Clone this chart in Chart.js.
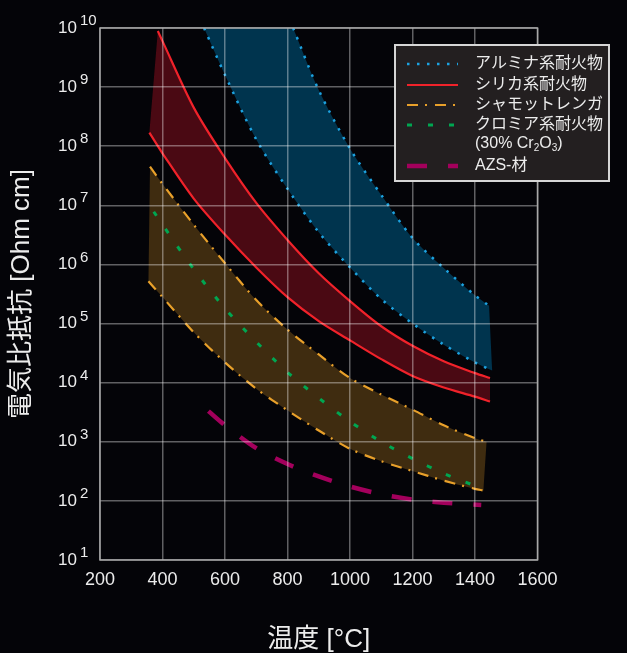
<!DOCTYPE html>
<html>
<head>
<meta charset="utf-8">
<script src="https://cdn.jsdelivr.net/npm/chart.js@4.4.1/dist/chart.umd.min.js"></script>
<style>
  html, body { margin: 0; padding: 0; background: #040408; }
  #wrap { width: 627px; height: 653px; position: relative; }
</style>
</head>
<body>
<div id="wrap"><canvas id="resistChart"></canvas></div>
<script>
// axis ticks
const xTicks = [200, 400, 600, 800, 1000, 1200, 1400, 1600];
const yTicks = [1e1, 1e2, 1e3, 1e4, 1e5, 1e6, 1e7, 1e8, 1e9, 1e10];
const yExponents = ['1', '2', '3', '4', '5', '6', '7', '8', '9', '10'];

// アルミナ系耐火物 (upper / lower bound)
const aluHighT = [818, 900, 1000, 1100, 1200, 1300, 1400, 1445];
const aluHigh = [1.0e10, 8.9e8, 9.1e7, 1.5e7, 2.8e6, 8.7e5, 3.0e5, 2.0e5];
const aluLowT = [533, 600, 700, 800, 900, 1000, 1100, 1200, 1300, 1400, 1455];
const aluLow = [1.0e10, 1.6e9, 1.3e8, 1.9e7, 3.5e6, 8.9e5, 2.6e5, 1.0e5, 4.4e4, 2.2e4, 1.6e4];

// シリカ系耐火物
const silHighT = [385, 400, 500, 600, 700, 800, 900, 1000, 1100, 1200, 1300, 1400, 1448];
const silHigh = [8.9e9, 6.0e9, 4.5e8, 6.3e7, 1.1e7, 2.6e6, 7.1e5, 2.4e5, 9.0e4, 4.2e4, 2.3e4, 1.45e4, 1.2e4];
const silLowT = [358, 400, 500, 600, 700, 800, 900, 1000, 1100, 1200, 1300, 1400, 1448];
const silLow = [1.7e8, 7.6e7, 1.3e7, 3.2e6, 8.9e5, 2.8e5, 1.1e5, 5.2e4, 2.5e4, 1.3e4, 8.3e3, 5.8e3, 4.8e3];

// シャモットレンガ
const chaHighT = [360, 400, 500, 600, 700, 800, 900, 1000, 1100, 1200, 1300, 1400, 1437];
const chaHigh = [4.5e7, 2.3e7, 4.7e6, 1.05e6, 2.5e5, 7.9e4, 3.0e4, 1.2e4, 6.3e3, 3.5e3, 1.9e3, 1.15e3, 1.0e3];
const chaLowT = [355, 400, 500, 600, 700, 800, 900, 1000, 1100, 1200, 1300, 1400, 1427];
const chaLow = [5.2e5, 2.8e5, 7.1e4, 2.2e4, 7.9e3, 3.4e3, 1.55e3, 7.6e2, 4.7e2, 3.2e2, 2.2e2, 1.6e2, 1.5e2];

// クロミア系耐火物 (30% Cr2O3)
const chrT = [372, 400, 500, 600, 700, 800, 900, 1000, 1100, 1200, 1300, 1400, 1420];
const chr = [7.8e6, 4.7e6, 8.3e5, 1.8e5, 4.9e4, 1.5e4, 5.5e3, 2.2e3, 1.0e3, 5.2e2, 2.9e2, 1.8e2, 1.65e2];

// AZS-材
const azsT = [547, 600, 700, 800, 900, 1000, 1100, 1200, 1300, 1420];
const azs = [3.3e3, 1.9e3, 7.8e2, 4.2e2, 2.6e2, 1.75e2, 1.3e2, 1.05e2, 93, 85];

const legendLabels = ['アルミナ系耐火物', 'シリカ系耐火物', 'シャモットレンガ', 'クロミア系耐火物', 'AZS-材'];

const FONT = '"Liberation Sans", "Noto Sans CJK JP", Arial, sans-serif';
const TEXT = '#ececec';
const GRID = 'rgba(255,255,255,0.37)';

const pts = (t, v) => t.map((x, i) => ({x: x, y: v[i]}));
// closed band: upper curve, then lower curve backwards.
// end points are repeated so the spline keeps the short edges straight
const band = (ht, hv, lt, lv) => {
    const hi = pts(ht, hv);
    const lo = pts(lt, lv).reverse();
    return hi.concat([hi[hi.length - 1], lo[0]], lo);
};

const lineDs = (label, data, color, width, dash) => ({
    label: label,
    data: data,
    borderColor: color,
    borderWidth: width,
    borderDash: dash,
    pointRadius: 0,
    fill: false
});

const bandDs = (data, color) => ({
    label: '',
    data: data,
    borderWidth: 0,
    borderColor: 'rgba(0,0,0,0)',
    backgroundColor: color,
    pointRadius: 0,
    fill: 'shape'
});

const overlay = {
    id: 'overlay',
    afterDraw(chart) {
        const {ctx, chartArea: a, scales: {y}} = chart;
        ctx.save();

        // frame
        ctx.strokeStyle = '#a8a8a8';
        ctx.lineWidth = 1.5;
        ctx.strokeRect(a.left, a.top, a.right - a.left, a.bottom - a.top);

        // log tick labels 10^n
        ctx.fillStyle = TEXT;
        ctx.textBaseline = 'middle';
        yTicks.forEach((v, i) => {
            const py = y.getPixelForValue(v);
            ctx.font = '17px ' + FONT;
            ctx.textAlign = 'right';
            ctx.fillText('10', a.left - 23, py);
            ctx.font = '15px ' + FONT;
            ctx.textAlign = 'left';
            ctx.fillText(yExponents[i], a.left - 20, py - 7);
        });

        // legend box
        const bx = 395, by = 45, bw = 214, bh = 136;
        ctx.fillStyle = '#231f20';
        ctx.fillRect(bx, by, bw, bh);
        ctx.strokeStyle = '#d6d6d6';
        ctx.lineWidth = 2;
        ctx.strokeRect(bx, by, bw, bh);

        const rows = [64, 85, 105, 125, 166];
        rows.forEach((ry, i) => {
            const ds = chart.data.datasets[i];
            ctx.beginPath();
            ctx.strokeStyle = ds.borderColor;
            ctx.lineWidth = ds.borderWidth;
            ctx.setLineDash(ds.borderDash || []);
            ctx.moveTo(407, ry);
            ctx.lineTo(458, ry);
            ctx.stroke();
            ctx.setLineDash([]);
            ctx.fillStyle = TEXT;
            ctx.font = '16px ' + FONT;
            ctx.textAlign = 'left';
            ctx.fillText(legendLabels[i], 475, ry);
        });

        // second line of chromia entry: (30% Cr2O3)
        let tx = 475;
        const ty = 144;
        const part = (s, size, dy) => {
            ctx.font = size + 'px ' + FONT;
            ctx.fillText(s, tx, ty + dy);
            tx += ctx.measureText(s).width;
        };
        part('(30% Cr', 16, 0);
        part('2', 10, 4);
        part('O', 16, 0);
        part('3', 10, 4);
        part(')', 16, 0);

        ctx.restore();
    }
};

new Chart(document.getElementById('resistChart'), {
    type: 'line',
    data: {
        datasets: [
            lineDs('アルミナ系耐火物', pts(aluHighT, aluHigh), '#1ca2e0', 2.5, [2.5, 7.5]),
            lineDs('シリカ系耐火物', pts(silHighT, silHigh), '#f0222a', 2.2, []),
            lineDs('シャモットレンガ', pts(chaHighT, chaHigh), '#e8a02a', 2.2, [11, 7, 2, 8]),
            lineDs('クロミア系耐火物', pts(chrT, chr), '#00a651', 3, [5, 16]),
            lineDs('AZS-材', pts(azsT, azs), '#a3005c', 4.5, [20, 21]),
            lineDs('', pts(aluLowT, aluLow), '#1ca2e0', 2.5, [2.5, 7.5]),
            lineDs('', pts(silLowT, silLow), '#f0222a', 2.2, []),
            lineDs('', pts(chaLowT, chaLow), '#e8a02a', 2.2, [11, 7, 2, 8]),
            bandDs(band(aluHighT, aluHigh, aluLowT, aluLow), '#00344e'),
            bandDs(band(silHighT, silHigh, silLowT, silLow), '#4a0913'),
            bandDs(band(chaHighT, chaHigh, chaLowT, chaLow), '#3f2c10')
        ]
    },
    options: {
        responsive: true,
        maintainAspectRatio: false,
        animation: false,
        events: [],
        elements: {
            line: { tension: 0.3, borderCapStyle: 'butt' }
        },
        layout: {
            padding: { top: 28, right: 89.5, bottom: 0, left: 0 }
        },
        plugins: {
            legend: { display: false },
            tooltip: { enabled: false }
        },
        scales: {
            x: {
                type: 'linear',
                min: 200,
                max: 1600,
                afterBuildTicks: (axis) => { axis.ticks = xTicks.map(v => ({value: v})); },
                afterFit: (axis) => { axis.height = 93; },
                grid: { color: GRID, lineWidth: 1.5, drawTicks: false, z: 1 },
                border: { display: false },
                ticks: {
                    color: TEXT,
                    padding: 9,
                    font: { family: FONT, size: 18 },
                    callback: (v) => String(v)
                },
                title: {
                    display: true,
                    text: '温度 [°C]',
                    color: TEXT,
                    font: { family: FONT, size: 26, lineHeight: 1 },
                    padding: { top: 0, bottom: 0.5 }
                }
            },
            y: {
                type: 'logarithmic',
                min: 10,
                max: 1e10,
                afterBuildTicks: (axis) => { axis.ticks = yTicks.map(v => ({value: v})); },
                afterFit: (axis) => { axis.width = 100; },
                grid: { color: GRID, lineWidth: 1.5, drawTicks: false, z: 1 },
                border: { display: false },
                ticks: { display: false },
                title: {
                    display: true,
                    text: '電気比抵抗 [Ohm cm]',
                    color: TEXT,
                    font: { family: FONT, size: 26 },
                    padding: { top: 6, bottom: 0 }
                }
            }
        }
    },
    plugins: [overlay]
});
</script>
</body>
</html>
